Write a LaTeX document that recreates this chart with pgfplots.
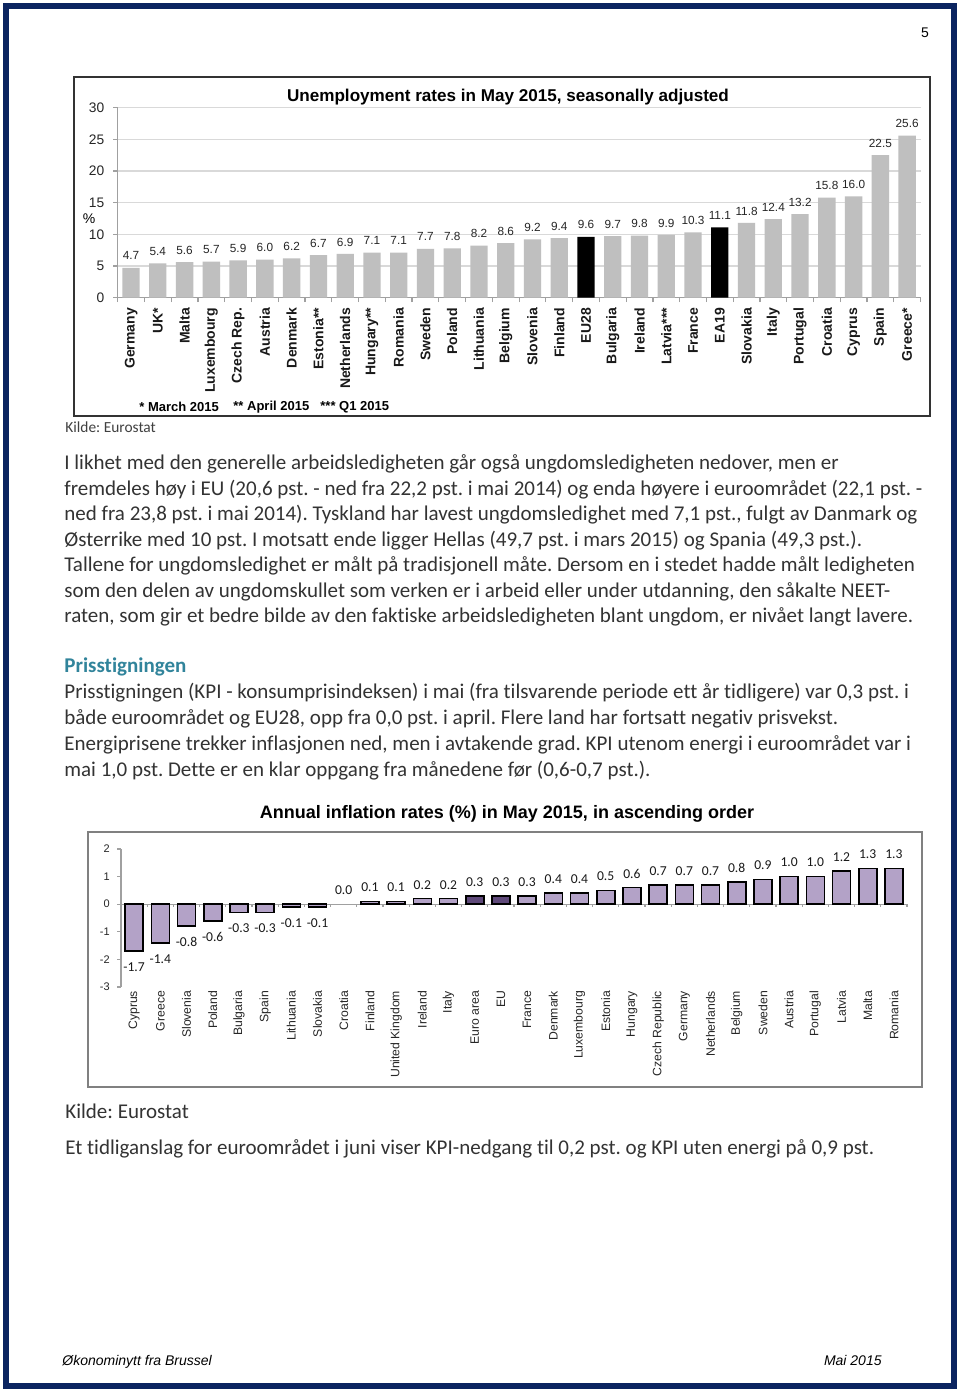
\documentclass[border=0pt]{standalone}
\usepackage{pgfplots}
\pgfplotsset{compat=1.18}
\usepackage{fontspec}
\setmainfont{Carlito}[Ligatures=NoCommon]
\newfontfamily\arial{Liberation Sans}
\frenchspacing
\definecolor{navy}{HTML}{0B2460}
\definecolor{bargray}{HTML}{BFBFBF}
\definecolor{gridgray}{HTML}{D9D9D9}
\definecolor{axisgray}{HTML}{A0A0A0}
\definecolor{txt}{HTML}{333333}
\definecolor{teal}{HTML}{31849B}
\definecolor{lav}{HTML}{B3A2C7}
\definecolor{darkpurple}{HTML}{5F497A}
\begin{document}
\begin{tikzpicture}
\fill[white] (0,0) rectangle (480pt,698pt);
\begin{scope}[x=0.5pt,y=-0.5pt,shift={(0pt,698pt)}]
\draw[navy,line width=3pt] (6,6) rectangle (954,1386);
\node[font=\arial\fontsize{7}{8}\selectfont,anchor=center] at (925,33) {5};
% top chart frame
\draw[black!80,line width=0.7pt] (74,77) rectangle (930,416);
\node[font=\arial\bfseries\fontsize{8.55}{10}\selectfont,anchor=center] at (508,97) {Unemployment rates in May 2015, seasonally adjusted};
\node[font=\arial\fontsize{7}{8}\selectfont,anchor=center] at (89,219) {\%};
\node[font=\arial\bfseries\fontsize{6.5}{8}\selectfont,anchor=west,inner sep=0] at (139,407) {* March 2015};
\node[font=\arial\bfseries\fontsize{6.5}{8}\selectfont,anchor=west,inner sep=0] at (233,407) {** April 2015};
\node[font=\arial\bfseries\fontsize{6.5}{8}\selectfont,anchor=west,inner sep=0] at (320,407) {*** Q1 2015};
\node[font=\fontsize{7.7}{9}\selectfont,text=black!75,anchor=base west,inner sep=0] at (65,433) {Kilde: Eurostat};
% body text
\begin{scope}[every node/.style={font=\fontsize{10.5}{12}\selectfont,text=txt,anchor=base west,inner sep=0}]
\node at (64,470) {I likhet med den generelle arbeidsledigheten går også ungdomsledigheten nedover, men er};
\node at (64,496) {fremdeles høy i EU (20,6 pst. - ned fra 22,2 pst. i mai 2014) og enda høyere i euroområdet (22,1 pst. -};
\node at (64,521) {ned fra 23,8 pst. i mai 2014). Tyskland har lavest ungdomsledighet med 7,1 pst., fulgt av Danmark og};
\node at (64,547) {Østerrike med 10 pst. I motsatt ende ligger Hellas (49,7 pst. i mars 2015) og Spania (49,3 pst.).};
\node at (64,572) {Tallene for ungdomsledighet er målt på tradisjonell måte. Dersom en i stedet hadde målt ledigheten};
\node at (64,598) {som den delen av ungdomskullet som verken er i arbeid eller under utdanning, den såkalte NEET-};
\node at (64,623) {raten, som gir et bedre bilde av den faktiske arbeidsledigheten blant ungdom, er nivået langt lavere.};
\node[text=teal,font=\bfseries\fontsize{10.5}{12}\selectfont] at (64,673) {Prisstigningen};
\node at (64,699) {Prisstigningen (KPI - konsumprisindeksen) i mai (fra tilsvarende periode ett år tidligere) var 0,3 pst. i};
\node at (64,725) {både euroområdet og EU28, opp fra 0,0 pst. i april. Flere land har fortsatt negativ prisvekst.};
\node at (64,751) {Energiprisene trekker inflasjonen ned, men i avtakende grad. KPI utenom energi i euroområdet var i};
\node at (64,777) {mai 1,0 pst. Dette er en klar oppgang fra månedene før (0,6-0,7 pst.).};
\node at (65,1119) {Kilde: Eurostat};
\node at (65,1155) {Et tidliganslag for euroområdet i juni viser KPI-nedgang til 0,2 pst. og KPI uten energi på 0,9 pst.};
\end{scope}
% bottom chart frame
\draw[black!50,line width=0.7pt] (88,832) rectangle (922,1087);
\node[font=\arial\bfseries\fontsize{9}{10}\selectfont,anchor=center] at (507,814) {Annual inflation rates (\%) in May 2015, in ascending order};
% footer
\node[font=\arial\itshape\fontsize{7}{8}\selectfont,anchor=base west,inner sep=0] at (62,1365) {Økonominytt fra Brussel};
\node[font=\arial\itshape\fontsize{7}{8}\selectfont,anchor=base east,inner sep=0] at (882,1365) {Mai 2015};
\end{scope}

% ---------- top chart ----------
\begin{axis}[
  at={(58.85pt,549.15pt)}, anchor=south west, scale only axis,
  width=401.4pt, height=95pt,
  xmin=-0.5, xmax=29.5, ymin=0, ymax=30,
  ytick={0,5,...,30},
  xtick={0,...,29},
  xticklabels={Germany,UK*,Malta,Luxembourg,Czech Rep.,Austria,Denmark,Estonia**,Netherlands,Hungary**,Romania,Sweden,Poland,Lithuania,Belgium,Slovenia,Finland,EU28,Bulgaria,Ireland,Latvia***,France,EA19,Slovakia,Italy,Portugal,Croatia,Cyprus,Spain,Greece*},
  minor xtick={-0.5,0.5,...,29.5},
  axis x line*=bottom, axis y line*=left,
  axis line style={draw=axisgray,line width=0.6pt},
  ymajorgrids, grid style={draw=gridgray,line width=0.7pt},
  tick align=outside, major tick length=2.2pt, minor tick length=2.2pt,
  every major x tick/.append style={draw=none},
  every minor x tick/.append style={draw=axisgray,line width=0.6pt},
  every major y tick/.append style={draw=axisgray,line width=0.6pt},
  xticklabel style={rotate=90,anchor=east,inner sep=0pt,font=\arial\bfseries\fontsize{7}{8}\selectfont,text=black!90},
  xticklabel shift=2.8pt,
  yticklabel style={font=\arial\fontsize{6.9}{8}\selectfont,text=black!85},
  yticklabel shift=1.0pt,
  /pgf/number format/assume math mode=true,
  ybar, bar width=8.65pt, bar shift=0pt,
  nodes near coords={\pgfmathprintnumber[fixed,fixed zerofill,precision=1,assume math mode=true]{\pgfplotspointmeta}},
  every node near coord/.append style={font=\arial\fontsize{5.9}{7}\selectfont,text=black!85,anchor=center,yshift=6pt},
  clip=false,
]
\addplot[fill=bargray,draw=none] coordinates {(0,4.7) (1,5.4) (2,5.6) (3,5.7) (4,5.9) (5,6.0) (6,6.2) (7,6.7) (8,6.9) (9,7.1) (10,7.1) (11,7.7) (12,7.8) (13,8.2) (14,8.6) (15,9.2) (16,9.4) (18,9.7) (19,9.8) (20,9.9) (21,10.3) (23,11.8) (24,12.4) (25,13.2) (26,15.8) (27,16.0) (28,22.5) (29,25.6)};
\addplot[fill=black,draw=none] coordinates {(17,9.6) (22,11.1)};
\end{axis}

% ---------- bottom chart ----------
\begin{axis}[
  at={(60.5pt,204.5pt)}, anchor=south west, scale only axis,
  width=393pt, height=69pt,
  xmin=-0.5, xmax=29.5, ymin=-3, ymax=2,
  ytick={-3,...,2},
  xtick={0,...,29},
  xticklabels={Cyprus,Greece,Slovenia,Poland,Bulgaria,Spain,Lithuania,Slovakia,Croatia,Finland,United Kingdom,Ireland,Italy,Euro area,EU,France,Denmark,Luxembourg,Estonia,Hungary,Czech Republic,Germany,Netherlands,Belgium,Sweden,Austria,Portugal,Latvia,Malta,Romania},
  axis x line*=bottom, axis y line*=left,
  x axis line style={draw=none},
  y axis line style={draw=axisgray,line width=0.6pt},
  tick align=outside, major tick length=1.8pt,
  every major x tick/.append style={draw=none},
  every major y tick/.append style={draw=axisgray,line width=0.6pt},
  xticklabel style={rotate=90,anchor=east,inner sep=0pt,font=\arial\fontsize{6.1}{7}\selectfont,text=black!85},
  xticklabel shift=0pt,
  yticklabel style={font=\arial\fontsize{5.5}{7}\selectfont,text=black!85},
  yticklabel shift=0.3pt,
  /pgf/number format/assume math mode=true,
  ybar, bar width=9pt, bar shift=0pt,
  nodes near coords={\pgfmathprintnumber[fixed,fixed zerofill,precision=1,assume math mode=true]{\pgfplotspointmeta}},
  every node near coord/.append style={font=\fontsize{6.8}{8}\selectfont,text=black!90,anchor=center},
  clip=false,
]
\draw[axisgray,line width=0.6pt] (axis cs:-0.5,0) -- (axis cs:29.5,0);
\pgfplotsinvokeforeach{0,...,30}{\draw[axisgray,line width=0.6pt] (axis cs:#1-0.5,0) -- ++(0pt,-1.6pt);}
\addplot[fill=lav,draw=black,line width=0.8pt,every node near coord/.append style={yshift=-8pt}] coordinates {(0,-1.7) (1,-1.4) (2,-0.8) (3,-0.6) (4,-0.3) (5,-0.3) (6,-0.1) (7,-0.1)};
\addplot[fill=none,draw=none,every node near coord/.append style={yshift=7pt}] coordinates {(8,0.0)};
\addplot[fill=lav,draw=black,line width=0.8pt,every node near coord/.append style={yshift=7pt}] coordinates {(9,0.1) (10,0.1) (11,0.2) (12,0.2) (15,0.3) (16,0.4) (17,0.4) (18,0.5) (19,0.6) (20,0.7) (21,0.7) (22,0.7) (23,0.8) (24,0.9) (25,1.0) (26,1.0) (27,1.2) (28,1.3) (29,1.3)};
\addplot[fill=darkpurple,draw=black,line width=0.8pt,every node near coord/.append style={yshift=7pt}] coordinates {(13,0.3) (14,0.3)};
\end{axis}
\pgfresetboundingbox
\useasboundingbox (0,0) rectangle (480pt,698pt);
\end{tikzpicture}
\end{document}
